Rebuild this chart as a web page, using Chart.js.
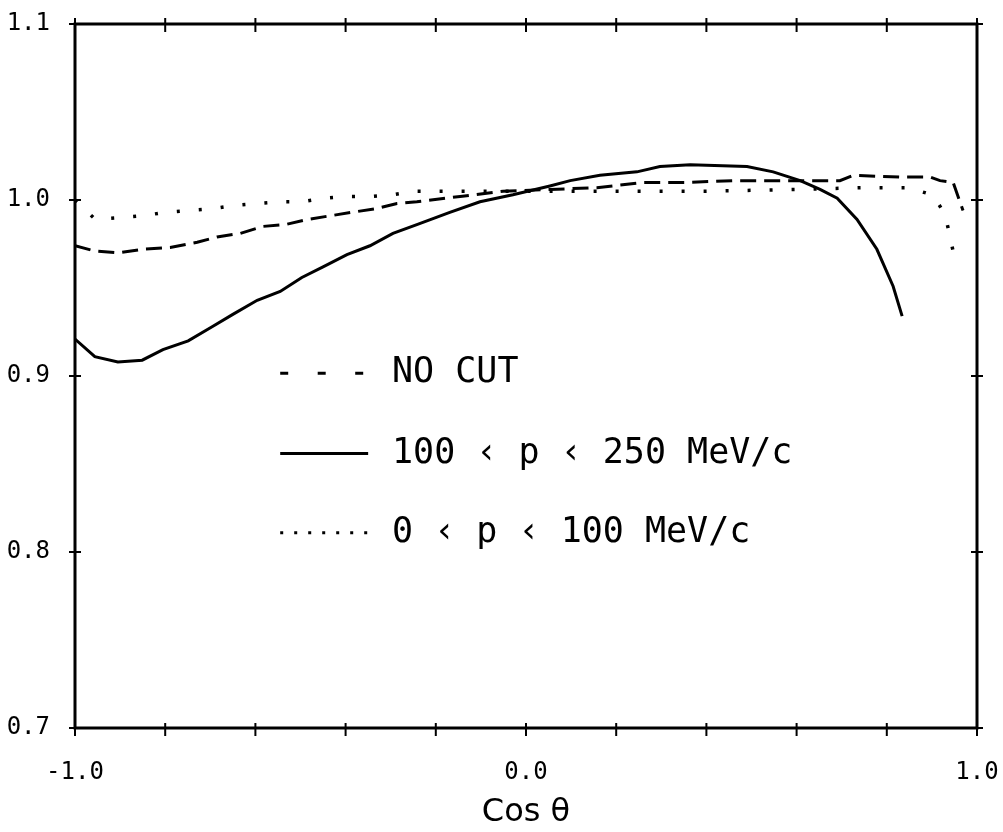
<!DOCTYPE html>
<html>
<head>
<meta charset="utf-8">
<script src="https://cdn.jsdelivr.net/npm/chart.js@4/dist/chart.umd.min.js"></script>
<style>
  body { margin: 0; background: #fff; }
  #wrap { width: 1003px; height: 832px; }
</style>
</head>
<body>
<div id="wrap"><canvas id="ratio" width="1003" height="832"></canvas></div>
<script>
// NO CUT
const cosNoCut = [-1.0, -0.956, -0.905, -0.849, -0.789, -0.729, -0.685, -0.634, -0.583, -0.534, -0.483, -0.435, -0.386, -0.335, -0.286, -0.242, -0.146, -0.051, 0.053, 0.157, 0.259, 0.357, 0.459, 0.608, 0.696, 0.725, 0.829, 0.896, 0.918, 0.947, 0.969];
const ratioNoCut = [0.974, 0.971, 0.970, 0.972, 0.973, 0.976, 0.979, 0.981, 0.985, 0.986, 0.989, 0.991, 0.993, 0.995, 0.998, 0.999, 1.002, 1.005, 1.006, 1.007, 1.010, 1.010, 1.011, 1.011, 1.011, 1.014, 1.013, 1.013, 1.011, 1.010, 0.994];

// 100 < p < 250 MeV/c
const cosMid = [-1.0, -0.956, -0.905, -0.851, -0.805, -0.749, -0.696, -0.650, -0.596, -0.545, -0.497, -0.450, -0.397, -0.346, -0.295, -0.242, -0.169, -0.102, -0.029, 0.053, 0.098, 0.164, 0.246, 0.297, 0.364, 0.490, 0.548, 0.608, 0.652, 0.690, 0.734, 0.778, 0.814, 0.834];
const ratioMid = [0.921, 0.911, 0.908, 0.909, 0.915, 0.920, 0.928, 0.935, 0.943, 0.948, 0.956, 0.962, 0.969, 0.974, 0.981, 0.986, 0.993, 0.999, 1.003, 1.008, 1.011, 1.014, 1.016, 1.019, 1.020, 1.019, 1.016, 1.011, 1.006, 1.001, 0.989, 0.972, 0.951, 0.934];

// 0 < p < 100 MeV/c
const cosLow = [-1.0, -0.955, -0.900, -0.851, -0.800, -0.749, -0.696, -0.645, -0.596, -0.545, -0.497, -0.446, -0.397, -0.346, -0.295, -0.250, -0.150, 0.0, 0.200, 0.400, 0.600, 0.747, 0.847, 0.900, 0.914, 0.929, 0.936, 0.947];
const ratioLow = [1.000, 0.989, 0.990, 0.991, 0.993, 0.994, 0.995, 0.997, 0.998, 0.999, 0.999, 1.001, 1.002, 1.002, 1.003, 1.005, 1.005, 1.005, 1.005, 1.005, 1.006, 1.007, 1.007, 1.003, 0.998, 0.992, 0.984, 0.971];

// axis ticks
const xTicks = [-1.0, -0.8, -0.6, -0.4, -0.2, 0.0, 0.2, 0.4, 0.6, 0.8, 1.0];
const xLabelled = [-1.0, 0.0, 1.0];
const yTicks = [0.7, 0.8, 0.9, 1.0, 1.1];

const legendLabels = ['NO CUT', '100 ‹ p ‹ 250 MeV/c', '0 ‹ p ‹ 100 MeV/c'];

function toPoints(xs, ys) {
  const pts = [];
  for (let i = 0; i < xs.length; i++) {
    pts.push({x: xs[i], y: ys[i]});
  }
  return pts;
}

Chart.defaults.color = '#000';
Chart.defaults.font.family = '"DejaVu Sans Mono", monospace';

// box with ticks crossing every side
const framePlugin = {
  id: 'frame',
  afterDatasetsDraw(chart) {
    const {ctx, chartArea: a, scales: {x, y}} = chart;
    ctx.save();
    ctx.strokeStyle = '#000';
    ctx.lineWidth = 3;
    ctx.strokeRect(a.left, a.top, a.right - a.left, a.bottom - a.top);
    ctx.lineWidth = 2;
    ctx.beginPath();
    xTicks.forEach(v => {
      const px = x.getPixelForValue(v);
      ctx.moveTo(px, a.top - 6); ctx.lineTo(px, a.top + 8);
      ctx.moveTo(px, a.bottom - 5); ctx.lineTo(px, a.bottom + 8);
    });
    yTicks.forEach(v => {
      const py = y.getPixelForValue(v);
      ctx.moveTo(a.left - 6, py); ctx.lineTo(a.left + 6, py);
      ctx.moveTo(a.right - 6, py); ctx.lineTo(a.right + 6, py);
    });
    ctx.stroke();
    ctx.restore();
  }
};

// legend written inside the plot
const legendPlugin = {
  id: 'plotLegend',
  afterDraw(chart) {
    const {ctx, scales: {x, y}} = chart;
    const x0 = x.getPixelForValue(-0.545);
    const x1 = x.getPixelForValue(-0.350);
    const tx = x.getPixelForValue(-0.297);
    const rows = [0.9015, 0.856, 0.811];
    const dashes = [[8, 29.5], [], [3, 11]];
    ctx.save();
    ctx.strokeStyle = '#000';
    ctx.fillStyle = '#000';
    ctx.font = '35px "DejaVu Sans Mono", monospace';
    ctx.textBaseline = 'middle';
    rows.forEach((v, i) => {
      const py = y.getPixelForValue(v);
      ctx.lineWidth = 3;
      ctx.setLineDash(dashes[i]);
      ctx.beginPath();
      ctx.moveTo(x0, py);
      ctx.lineTo(x1, py);
      ctx.stroke();
      ctx.setLineDash([]);
      ctx.fillText(legendLabels[i], tx, py);
    });
    ctx.restore();
  }
};

new Chart(document.getElementById('ratio'), {
  type: 'line',
  data: {
    datasets: [
      {
        label: legendLabels[0],
        data: toPoints(cosNoCut, ratioNoCut),
        borderColor: '#000',
        borderWidth: 3,
        borderDash: [16, 8]
      },
      {
        label: legendLabels[1],
        data: toPoints(cosMid, ratioMid),
        borderColor: '#000',
        borderWidth: 3
      },
      {
        label: legendLabels[2],
        data: toPoints(cosLow, ratioLow),
        borderColor: '#000',
        borderWidth: 3.5,
        borderDash: [3, 19]
      }
    ]
  },
  options: {
    responsive: false,
    animation: false,
    layout: {padding: {top: 24, right: 26, left: 0, bottom: 0}},
    elements: {
      point: {radius: 0},
      line: {tension: 0, fill: false}
    },
    plugins: {
      legend: {display: false},
      tooltip: {enabled: false}
    },
    scales: {
      x: {
        type: 'linear',
        min: -1,
        max: 1,
        afterFit(scale) {
          scale.height = 104;
          scale.paddingLeft = 0;
          scale.paddingRight = 0;
        },
        afterBuildTicks(scale) { scale.ticks = xTicks.map(v => ({value: v})); },
        grid: {display: false, drawTicks: false},
        border: {display: false},
        ticks: {
          autoSkip: false,
          maxRotation: 0,
          padding: 30,
          font: {size: 24},
          callback: v => xLabelled.some(l => Math.abs(l - v) < 1e-6) ? v.toFixed(1) : ''
        },
        title: {
          display: true,
          text: 'Cos θ',
          font: {family: '"DejaVu Sans", sans-serif', size: 32},
          padding: {top: 0, bottom: 0}
        }
      },
      y: {
        min: 0.7,
        max: 1.1,
        afterFit(scale) {
          scale.width = 75;
          scale.paddingTop = 0;
          scale.paddingBottom = 0;
        },
        afterBuildTicks(scale) { scale.ticks = yTicks.map(v => ({value: v})); },
        grid: {display: false, drawTicks: false},
        border: {display: false},
        ticks: {
          padding: 25,
          font: {size: 24},
          callback: v => v.toFixed(1)
        }
      }
    }
  },
  plugins: [framePlugin, legendPlugin]
});
</script>
</body>
</html>
